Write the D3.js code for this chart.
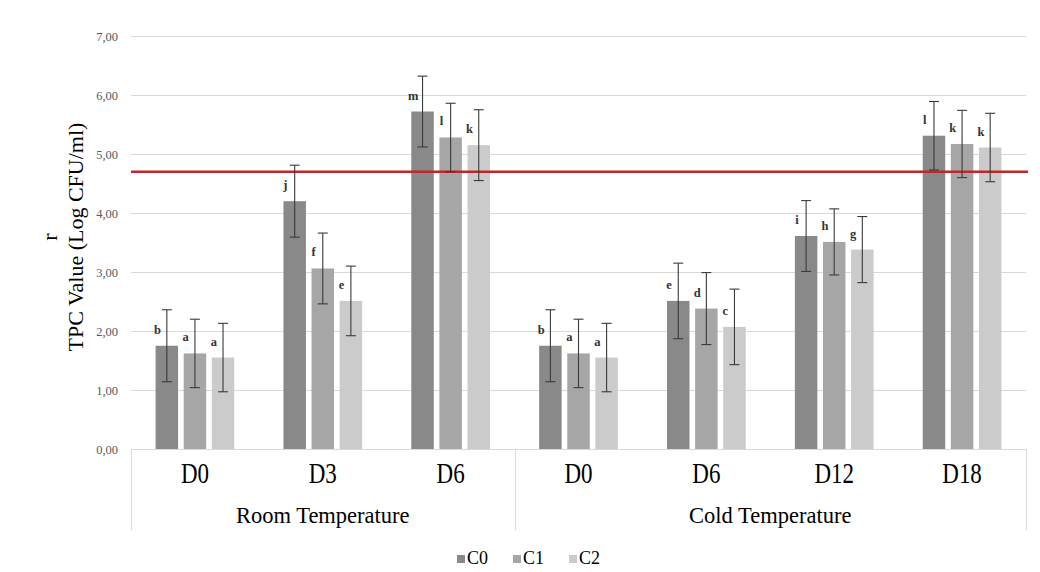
<!DOCTYPE html>
<html>
<head>
<meta charset="utf-8">
<script src="https://cdnjs.cloudflare.com/ajax/libs/d3/7.8.5/d3.min.js"></script>
<style>
  body { margin: 0; background: #fff; }
  svg { display: block; font-family: "Liberation Serif", "Times New Roman", serif; }
</style>
</head>
<body>
<div id="chart"></div>
<script>
var width = 1040,
    height = 572;

// data
var groups = ["Room Temperature", "Cold Temperature"];
var days = ["D0", "D3", "D6", "D0", "D6", "D12", "D18"];
var dayGroup = [0, 0, 0, 1, 1, 1, 1];
var series = ["C0", "C1", "C2"];
var seriesColors = ["#898989", "#a6a6a6", "#cbcbcb"];

var valuesC0 = [1.75, 4.20, 5.72, 1.75, 2.51, 3.61, 5.31];
var valuesC1 = [1.62, 3.06, 5.28, 1.62, 2.38, 3.51, 5.17];
var valuesC2 = [1.55, 2.51, 5.15, 1.55, 2.07, 3.38, 5.11];

var errC0 = [0.61, 0.61, 0.60, 0.61, 0.64, 0.60, 0.58];
var errC1 = [0.58, 0.60, 0.58, 0.58, 0.61, 0.56, 0.57];
var errC2 = [0.58, 0.59, 0.60, 0.58, 0.64, 0.56, 0.58];

var lettersC0 = ["b", "j", "m", "b", "e", "i", "l"];
var lettersC1 = ["a", "f", "l", "a", "d", "h", "k"];
var lettersC2 = ["a", "e", "k", "a", "c", "g", "k"];

var limitValue = 4.7;
var yTicks = [0, 1, 2, 3, 4, 5, 6, 7];

var values = [valuesC0, valuesC1, valuesC2];
var errors = [errC0, errC1, errC2];
var letters = [lettersC0, lettersC1, lettersC2];

var plotLeft = 131, plotRight = 1026, plotTop = 36, plotBottom = 449;

var svg = d3.select("#chart").append("svg")
    .attr("width", width)
    .attr("height", height);

svg.append("rect").attr("width", width).attr("height", height).attr("fill", "#fff");

var x = d3.scaleBand()
    .domain(d3.range(days.length))
    .range([plotLeft, plotRight])
    .paddingInner(0)
    .paddingOuter(0);

var xInner = d3.scaleBand()
    .domain(d3.range(series.length))
    .range([0, x.bandwidth()])
    .paddingInner(0.2)
    .paddingOuter(0.875);

var y = d3.scaleLinear()
    .domain([0, 7])
    .range([plotBottom, plotTop]);

var fmt = function(d){ return d3.format(".2f")(d).replace(".", ","); };

/* gridlines */
svg.append("g")
  .selectAll("line")
  .data(yTicks.filter(function(d){ return d > 0; }))
  .enter().append("line")
    .attr("x1", plotLeft)
    .attr("x2", plotRight)
    .attr("y1", function(d){ return Math.round(y(d)) + 0.5; })
    .attr("y2", function(d){ return Math.round(y(d)) + 0.5; })
    .attr("stroke", "#d9d9d9")
    .attr("stroke-width", 1);

/* y axis labels */
var yAxis = d3.axisLeft(y)
    .tickValues(yTicks)
    .tickFormat(fmt)
    .tickSize(0)
    .tickPadding(13);

var yAxisG = svg.append("g")
    .attr("transform", "translate(" + plotLeft + ",0)")
    .call(yAxis);
yAxisG.select(".domain").remove();
yAxisG.selectAll("text")
    .attr("font-family", "Liberation Serif, serif")
    .attr("font-size", 12.5)
    .attr("fill", "#595959");

/* y axis title */
svg.append("text")
    .attr("transform", "translate(83,237) rotate(-90)")
    .attr("text-anchor", "middle")
    .attr("font-size", 22)
    .attr("fill", "#000")
    .text("TPC Value (Log CFU/ml)");
svg.append("text")
    .attr("transform", "translate(57,237) rotate(-90)")
    .attr("text-anchor", "middle")
    .attr("font-size", 22)
    .attr("fill", "#000")
    .text("r");

/* bars */
var barData = [];
series.forEach(function(s, si){
  days.forEach(function(d, di){
    barData.push({ s: si, i: di, v: values[si][di], e: errors[si][di], l: letters[si][di] });
  });
});

svg.append("g").selectAll("rect")
  .data(barData)
  .enter().append("rect")
    .attr("x", function(d){ return x(d.i) + xInner(d.s); })
    .attr("width", xInner.bandwidth())
    .attr("y", function(d){ return y(d.v); })
    .attr("height", function(d){ return y(0) - y(d.v); })
    .attr("fill", function(d){ return seriesColors[d.s]; });

/* limit line */
svg.append("line")
    .attr("x1", plotLeft)
    .attr("x2", plotRight + 2)
    .attr("y1", y(limitValue))
    .attr("y2", y(limitValue))
    .attr("stroke", "#c0262c")
    .attr("stroke-width", 2.5);

/* error bars */
var errG = svg.append("g")
    .attr("stroke", "#3a3a3a")
    .attr("stroke-width", 1.1);

barData.forEach(function(d){
  var cx = x(d.i) + xInner(d.s) + xInner.bandwidth() / 2;
  var top = y(d.v + d.e), bot = y(d.v - d.e);
  errG.append("line").attr("x1", cx).attr("x2", cx).attr("y1", top).attr("y2", bot);
  errG.append("line").attr("x1", cx - 5).attr("x2", cx + 5).attr("y1", top).attr("y2", top);
  errG.append("line").attr("x1", cx - 5).attr("x2", cx + 5).attr("y1", bot).attr("y2", bot);
});

/* significance letters */
svg.append("g").selectAll("text")
  .data(barData)
  .enter().append("text")
    .attr("x", function(d){ return x(d.i) + xInner(d.s) + 2; })
    .attr("y", function(d){ return y(d.v) - 12; })
    .attr("text-anchor", "middle")
    .attr("font-size", 12.5)
    .attr("font-weight", "bold")
    .attr("fill", "#333")
    .text(function(d){ return d.l; });

/* category axis */
var catG = svg.append("g")
    .attr("stroke", "#d9d9d9")
    .attr("stroke-width", 1);

catG.append("line")
    .attr("x1", plotLeft).attr("x2", plotRight)
    .attr("y1", plotBottom + 0.5).attr("y2", plotBottom + 0.5);

var groupEdges = [0];
dayGroup.forEach(function(g, i){
  if (i > 0 && g !== dayGroup[i - 1]) groupEdges.push(i);
});
groupEdges.push(days.length);

groupEdges.forEach(function(i){
  var xx = i < days.length ? x(i) : plotRight;
  catG.append("line")
      .attr("x1", Math.round(xx) + 0.5).attr("x2", Math.round(xx) + 0.5)
      .attr("y1", plotBottom).attr("y2", 530);
});

svg.append("g").selectAll("text")
  .data(days)
  .enter().append("text")
    .attr("transform", function(d, i){
      return "translate(" + (x(i) + x.bandwidth() / 2) + ",483) scale(1,1.3)";
    })
    .attr("text-anchor", "middle")
    .attr("font-size", 23)
    .attr("fill", "#000")
    .text(function(d){ return d; });

groups.forEach(function(g, gi){
  var first = groupEdges[gi], last = groupEdges[gi + 1];
  var x0 = x(first), x1 = last < days.length ? x(last) : plotRight;
  svg.append("text")
      .attr("x", (x0 + x1) / 2)
      .attr("y", 523)
      .attr("text-anchor", "middle")
      .attr("font-size", 22.5)
      .attr("fill", "#000")
      .text(g);
});

/* legend */
var legend = svg.append("g").attr("transform", "translate(457,555)");
series.forEach(function(s, i){
  var lg = legend.append("g").attr("transform", "translate(" + (i * 56) + ",0)");
  lg.append("rect")
      .attr("width", 8).attr("height", 8)
      .attr("fill", seriesColors[i]);
  lg.append("text")
      .attr("x", 10)
      .attr("y", 9)
      .attr("font-size", 18)
      .attr("fill", "#000")
      .text(s);
});
</script>
</body>
</html>
